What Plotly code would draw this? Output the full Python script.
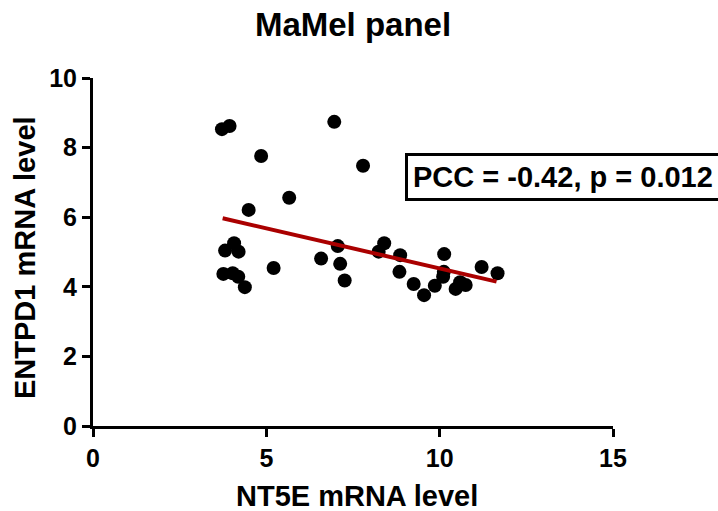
import plotly.graph_objects as go

nt5e = [3.72, 3.94, 4.85, 6.96, 7.79, 5.66, 4.49, 3.81, 4.07, 4.20, 3.76, 4.03, 4.19, 4.38,
        5.21, 6.58, 7.06, 7.13, 7.26, 8.24, 8.40, 8.86, 8.84, 9.25, 9.55, 9.86, 10.13, 10.12,
        10.10, 10.46, 10.59, 10.75, 11.21, 11.67]
entpd1 = [8.53, 8.62, 7.76, 8.74, 7.48, 6.56, 6.21, 5.04, 5.25, 5.01, 4.37, 4.39, 4.29, 3.99,
          4.54, 4.81, 5.17, 4.66, 4.18, 5.01, 5.25, 4.91, 4.43, 4.08, 3.76, 4.03, 4.94, 4.43,
          4.29, 3.94, 4.13, 4.05, 4.57, 4.39]
fit_x = [3.74, 11.64]
fit_y = [5.97, 4.15]
x_ticks = [0, 5, 10, 15]
y_ticks = [0, 2, 4, 6, 8, 10]
annot_text = "PCC = -0.42, p = 0.012"

FONT = "Arial, Liberation Sans, sans-serif"

fig = go.Figure()
fig.add_trace(go.Scatter(x=nt5e, y=entpd1, mode="markers",
                         marker=dict(color="black", size=14, line=dict(width=0)),
                         showlegend=False, cliponaxis=False))
fig.add_trace(go.Scatter(x=fit_x, y=fit_y, mode="lines",
                         line=dict(color="#AA0000", width=4), showlegend=False))

axis_common = dict(showgrid=False, zeroline=False, showline=True, linecolor="black",
                   linewidth=3, ticks="outside", ticklen=8, tickwidth=3, tickcolor="black",
                   automargin=False,
                   tickfont=dict(family=FONT, size=25, color="black"))

fig.update_layout(
    width=718, height=511,
    margin=dict(l=93, r=105, t=78, b=85),
    plot_bgcolor="white", paper_bgcolor="white",
    title=dict(text="<b>MaMel panel</b>", x=353/718, xanchor="center",
               y=1 - 24/511, yanchor="middle", yref="container",
               font=dict(family=FONT, size=33, color="black")),
    xaxis=dict(range=[0, 15], tickvals=x_ticks,
               ticktext=["<b>%d</b>" % v for v in x_ticks],
               **axis_common),
    yaxis=dict(range=[0, 10], tickvals=y_ticks,
               ticktext=["<b>%d</b>" % v for v in y_ticks],
               **axis_common),
)

fig.add_annotation(text="<b>NT5E mRNA level</b>", xref="paper", yref="paper",
                   x=(357 - 93) / 520, y=(426 - 496) / 348, xanchor="center",
                   yanchor="middle", showarrow=False,
                   font=dict(family=FONT, size=29, color="black"))

fig.add_annotation(text="<b>ENTPD1 mRNA level</b>", xref="paper", yref="paper",
                   x=(25 - 93) / 520, y=(426 - 258) / 348, xanchor="center",
                   yanchor="middle", textangle=-90, showarrow=False,
                   font=dict(family=FONT, size=29, color="black"))

fig.add_annotation(text="<b>" + annot_text + "</b>", xref="paper", yref="paper",
                   x=0.6, y=(426 - 177) / 348, xanchor="left", yanchor="middle",
                   showarrow=False, bordercolor="black", borderwidth=3, borderpad=5,
                   bgcolor="white", font=dict(family=FONT, size=29, color="black"))

fig.write_html("out.html")
